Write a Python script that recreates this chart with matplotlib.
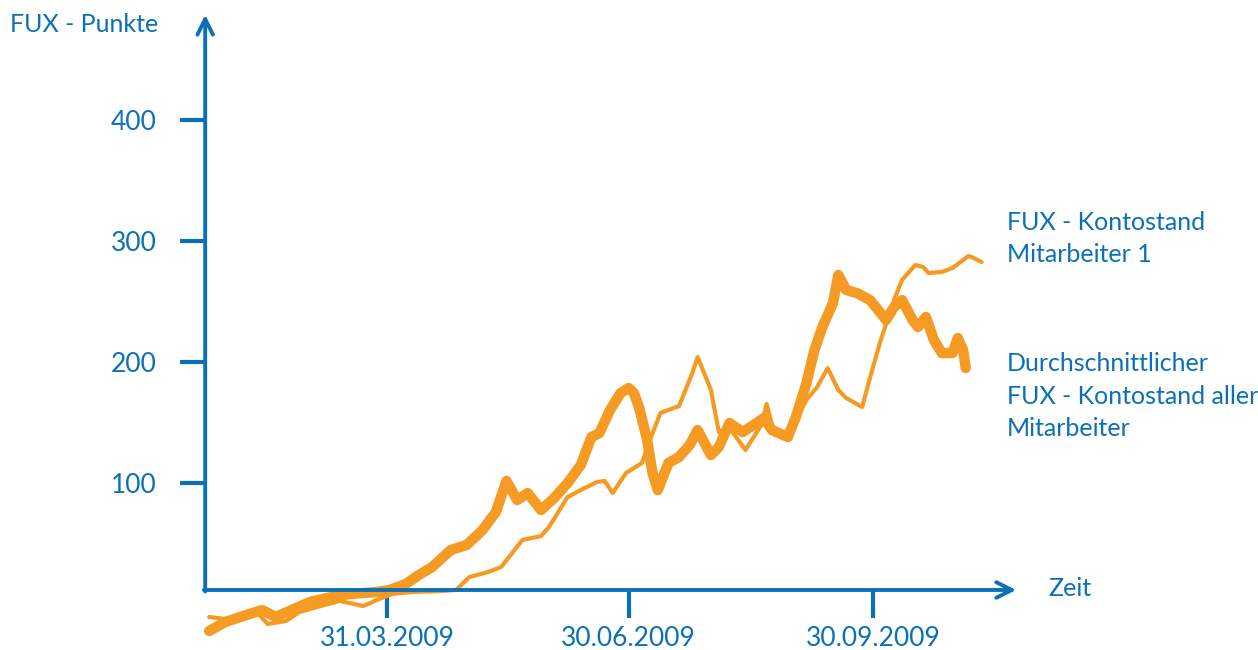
import matplotlib.pyplot as plt

plt.rcParams['font.family'] = ['Lato', 'DejaVu Sans']

# Days since 01.01.2009 and FUX points
avg_days = [22, 28, 36, 42, 47, 53, 60, 68, 75, 85, 90, 96, 101, 106, 113, 119, 125,
            130, 134, 138, 142, 147, 152, 157, 162, 166, 169, 173, 177, 180, 182, 184,
            187, 189, 191, 195, 199, 203, 206, 211, 214, 218, 223, 227, 231, 234, 240,
            243, 247, 250, 253, 257, 259, 262, 266, 271, 277, 280, 283, 287, 289, 292,
            295, 298, 302, 304, 306, 307]
avg_pts = [-22.3, -14.9, -9.1, -5.0, -10.7, -5.0, 1.7, 5.8, 8.3, 9.9, 11.6, 16.5, 24.0,
           30.6, 44.6, 48.8, 61.2, 76.0, 101.7, 86.0, 91.7, 77.7, 87.6, 100.0, 114.9,
           138.0, 141.3, 160.3, 174.4, 178.5, 174.4, 162.0, 135.5, 108.3, 94.2, 116.5,
           121.5, 131.4, 143.8, 123.1, 129.8, 149.6, 142.1, 147.9, 153.7, 143.8, 138.0,
           154.5, 182.6, 209.9, 228.9, 248.8, 271.9, 259.5, 257.0, 251.2, 234.7, 245.5,
           251.2, 234.7, 228.9, 237.2, 218.2, 207.4, 207.4, 219.8, 209.9, 195.0]

emp_days = [22, 28, 36, 40, 44, 51, 56, 64, 71, 75, 80, 86, 91, 98, 109, 115, 120, 127,
            132, 140, 147, 150, 157, 162, 168, 171, 174, 179, 185, 188, 192, 199, 204,
            206, 211, 214, 218, 224, 230, 232, 235, 241, 247, 251, 255, 259, 262, 268,
            271, 275, 280, 283, 288, 291, 293, 298, 302, 305, 308, 310, 313]
emp_pts = [-10.7, -12.4, -9.9, -6.6, -16.5, -14.0, -6.6, -1.7, 2.5, 0.8, -1.7, 4.1, 8.3,
           9.9, 10.7, 11.6, 22.3, 26.4, 30.6, 52.9, 56.2, 63.6, 88.4, 94.2, 100.8, 101.7,
           91.7, 108.3, 116.5, 135.5, 157.9, 163.6, 190.9, 204.1, 176.9, 142.1, 145.5,
           127.3, 147.9, 165.3, 139.7, 143.8, 168.6, 179.3, 195.0, 176.9, 170.2, 162.8,
           187.6, 218.2, 251.2, 267.8, 280.2, 278.5, 273.6, 274.4, 277.7, 282.6, 287.6,
           286.0, 282.6]

y_ticks = [100, 200, 300, 400]
x_ticks = [89, 180, 272]
x_labels = ['31.03.2009', '30.06.2009', '30.09.2009']

blue = '#0B70B7'
orange = '#F59A23'

fig = plt.figure(figsize=(12.58, 6.5), dpi=100)
ax = fig.add_axes([0, 0, 1, 1])
ax.set_xlim(-56.8, 417.1)
ax.set_ylim(-38.0, 499.2)

x0, y0 = 20.5, 11.6  # where the two axes cross

for s in ax.spines.values():
    s.set_visible(False)
ax.spines['left'].set_position(('data', x0))
ax.spines['bottom'].set_position(('data', y0))

ax.plot(avg_days, avg_pts, color=orange, lw=7.5, solid_joinstyle='round',
        solid_capstyle='round', zorder=2)
ax.plot(emp_days, emp_pts, color=orange, lw=3, solid_joinstyle='round',
        solid_capstyle='round', zorder=3)

# axes with arrow heads
arrow = dict(arrowstyle='->', lw=2.8, color=blue, mutation_scale=28,
             shrinkA=0, shrinkB=0)
ax.annotate('', xy=(x0, 487), xytext=(x0, y0 - 1.2), arrowprops=arrow)
ax.annotate('', xy=(326, y0), xytext=(x0 - 0.5, y0), arrowprops=arrow)

ax.set_yticks(y_ticks)
ax.set_yticklabels([str(v) for v in y_ticks])
ax.set_xticks(x_ticks)
ax.set_xticklabels(x_labels)
ax.tick_params(axis='y', direction='out', length=18, width=3, color=blue,
               labelcolor=blue, labelsize=19, pad=17)
ax.tick_params(axis='x', direction='out', length=20, width=3, color=blue,
               labelcolor=blue, labelsize=19, pad=6)
ax.yaxis.set_ticks_position('left')
ax.xaxis.set_ticks_position('bottom')

fig.text(10 / 1258, 1 - 25 / 650, 'FUX - Punkte', color=blue, fontsize=18,
         ha='left', va='center')
fig.text(1048 / 1258, 1 - 589 / 650, 'Zeit', color=blue, fontsize=18,
         ha='left', va='center')
fig.text(1007 / 1258, 1 - 211 / 650, 'FUX - Kontostand\nMitarbeiter 1', color=blue,
         fontsize=18, ha='left', va='top', linespacing=1.5)
fig.text(1007 / 1258, 1 - 352 / 650,
         'Durchschnittlicher\nFUX - Kontostand aller\nMitarbeiter', color=blue,
         fontsize=18, ha='left', va='top', linespacing=1.5)

fig.savefig('out.png', dpi=100)
